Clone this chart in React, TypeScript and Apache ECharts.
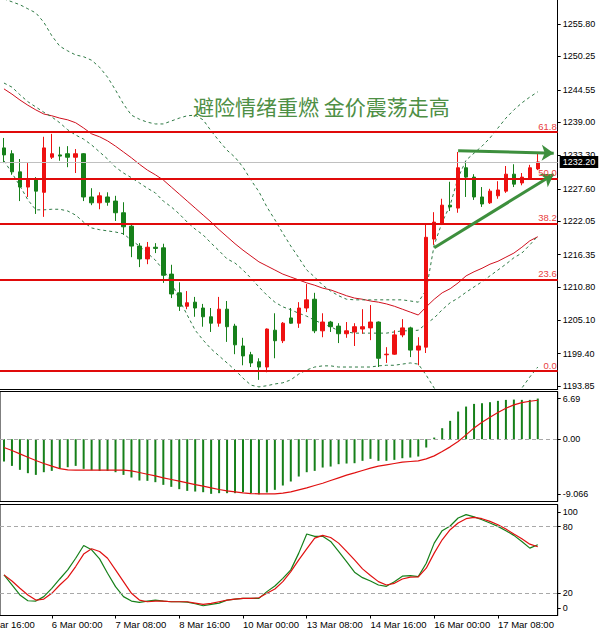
import React, { useEffect, useRef } from "react";
import * as echarts from "echarts";

// ---- slots on the time axis (68 bars + 2 empty slots of right shift) ----
const slotCount = 70;
const categories = Array.from({ length: slotCount }, (_, i) => String(i));

const timeTickIndex = [6, 14, 22, 30, 38, 46, 54, 62];
const timeTickLabels = [
  "6 Mar 00:00",
  "7 Mar 08:00",
  "8 Mar 16:00",
  "10 Mar 00:00",
  "13 Mar 08:00",
  "14 Mar 16:00",
  "16 Mar 00:00",
  "17 Mar 08:00",
];
const clippedFirstLabel = "ar 16:00";

// [open, close, low, high]
const candles = [
  [1234.6, 1233.4, 1232.0, 1236.3],
  [1233.6, 1230.5, 1230.0, 1234.2],
  [1230.5, 1227.9, 1225.5, 1232.7],
  [1227.9, 1229.1, 1226.2, 1232.0],
  [1229.1, 1227.2, 1223.3, 1229.6],
  [1227.0, 1234.6, 1222.8, 1236.5],
  [1233.0, 1233.6, 1232.7, 1237.0],
  [1233.4, 1233.2, 1232.4, 1234.8],
  [1233.6, 1233.0, 1231.3, 1234.9],
  [1233.0, 1233.6, 1230.3, 1234.4],
  [1233.6, 1226.2, 1225.5, 1233.7],
  [1226.2, 1225.2, 1224.8, 1227.7],
  [1225.2, 1226.4, 1224.1, 1227.0],
  [1226.2, 1225.3, 1224.7, 1227.0],
  [1225.5, 1223.5, 1222.1, 1226.4],
  [1223.5, 1221.1, 1219.7, 1225.3],
  [1221.2, 1217.8, 1215.9, 1221.4],
  [1217.8, 1215.6, 1214.2, 1218.3],
  [1215.6, 1217.6, 1214.7, 1218.5],
  [1217.6, 1217.4, 1216.6, 1218.3],
  [1217.5, 1212.8, 1211.5, 1218.2],
  [1213.0, 1209.6, 1208.9, 1214.6],
  [1209.8, 1207.5, 1206.7, 1211.6],
  [1207.5, 1208.1, 1207.0, 1210.1],
  [1208.2, 1207.2, 1205.7, 1209.1],
  [1207.2, 1205.7, 1204.0, 1207.9],
  [1205.7, 1204.6, 1203.1, 1207.2],
  [1204.6, 1207.0, 1204.0, 1209.1],
  [1207.0, 1204.0, 1201.4, 1208.4],
  [1204.1, 1200.9, 1199.3, 1204.5],
  [1200.7, 1199.0, 1197.4, 1202.1],
  [1199.2, 1197.8, 1197.1, 1199.7],
  [1198.0, 1197.1, 1194.9, 1198.6],
  [1197.1, 1203.6, 1196.2, 1203.7],
  [1203.4, 1201.6, 1198.6, 1206.3],
  [1201.6, 1204.6, 1201.2, 1204.8],
  [1205.5, 1204.6, 1204.5, 1207.2],
  [1204.6, 1207.2, 1203.8, 1208.2],
  [1207.2, 1208.6, 1206.5, 1211.3],
  [1208.7, 1203.3, 1202.9, 1209.8],
  [1203.3, 1204.8, 1202.2, 1206.3],
  [1204.8, 1204.0, 1203.1, 1205.0],
  [1204.1, 1202.8, 1201.2, 1204.6],
  [1202.8, 1203.3, 1202.1, 1204.8],
  [1203.1, 1204.0, 1200.7, 1204.6],
  [1203.6, 1204.0, 1202.8, 1207.0],
  [1203.8, 1204.8, 1201.7, 1207.7],
  [1204.8, 1198.6, 1197.1, 1204.9],
  [1199.2, 1199.3, 1197.8, 1200.5],
  [1199.3, 1202.6, 1199.2, 1203.4],
  [1202.6, 1203.8, 1202.2, 1205.3],
  [1203.8, 1200.0, 1198.8, 1204.0],
  [1200.0, 1200.7, 1197.4, 1202.2],
  [1200.5, 1219.3, 1199.5, 1221.6],
  [1219.0, 1221.9, 1218.0, 1223.6],
  [1221.7, 1224.8, 1221.4, 1225.9],
  [1224.8, 1224.5, 1223.8, 1228.8],
  [1224.3, 1231.2, 1223.5, 1233.9],
  [1231.2, 1229.6, 1226.2, 1232.0],
  [1229.6, 1226.2, 1225.7, 1230.1],
  [1226.2, 1225.0, 1224.5, 1227.9],
  [1225.2, 1227.2, 1225.0, 1227.6],
  [1226.4, 1227.4, 1225.9, 1228.9],
  [1227.2, 1230.1, 1226.9, 1231.5],
  [1230.1, 1228.4, 1227.9, 1231.8],
  [1228.6, 1229.6, 1228.2, 1230.3],
  [1229.4, 1231.2, 1229.3, 1231.7],
  [1231.0, 1232.2, 1230.8, 1233.6],
];

const bandUpper = [
  1260.1, 1259.6, 1259.1, 1258.4, 1257.7, 1256.1, 1253.8, 1252.0, 1251.2, 1250.5,
  1250.2, 1249.6, 1248.4, 1246.7, 1244.5, 1242.1, 1240.2, 1239.5, 1239.0, 1238.7,
  1238.7, 1239.2, 1239.7, 1240.1, 1240.2, 1239.4, 1237.5, 1235.8, 1234.2, 1233.0,
  1231.3, 1229.1, 1227.1, 1224.5, 1222.3, 1220.0, 1217.8, 1215.8, 1213.7, 1212.5,
  1211.1, 1210.1, 1209.3, 1208.7, 1208.6, 1208.6, 1208.6, 1208.6, 1208.6, 1208.6,
  1208.6, 1208.4, 1208.2, 1210.3, 1218.0, 1221.9, 1224.8, 1229.5, 1232.5, 1233.7,
  1234.9, 1236.3, 1238.0, 1239.7, 1241.1, 1242.3, 1243.3, 1244.2,
];
const bandMiddle = [
  1245.7, 1245.0, 1243.7, 1242.5, 1241.6, 1240.7, 1239.9, 1238.9, 1237.7, 1236.8,
  1236.1, 1235.1, 1233.9, 1232.7, 1231.3, 1230.3, 1229.5, 1228.6, 1227.7, 1226.9,
  1225.5, 1224.5, 1223.3, 1221.9, 1220.7, 1219.7, 1218.3, 1217.0, 1215.6, 1214.9,
  1213.7, 1212.3, 1210.8, 1209.4, 1208.2, 1207.4, 1206.9, 1206.3, 1205.8, 1205.1,
  1204.5, 1204.0, 1203.3, 1203.1, 1202.9, 1202.9, 1202.9, 1202.9, 1202.9, 1203.1,
  1203.3, 1203.3, 1203.4, 1204.5, 1205.5, 1206.9, 1208.1, 1208.9, 1209.9, 1210.8,
  1211.7, 1212.7, 1213.7, 1214.7, 1215.8, 1216.6, 1218.0, 1219.5,
];
const bandLower = [
  1232.4, 1230.3, 1228.1, 1225.7, 1224.0, 1224.0, 1224.1, 1224.1, 1223.8, 1223.1,
  1221.9, 1220.9, 1220.6, 1220.4, 1220.2, 1219.9, 1218.8, 1217.8, 1216.6, 1215.4,
  1213.7, 1211.7, 1208.6, 1206.0, 1203.4, 1201.7, 1200.2, 1199.0, 1197.8, 1196.6,
  1195.2, 1194.0, 1193.7, 1193.9, 1194.2, 1194.4, 1194.9, 1195.9, 1196.6, 1197.1,
  1197.3, 1197.3, 1197.1, 1197.1, 1197.1, 1197.1, 1197.1, 1197.3, 1197.4, 1197.4,
  1197.6, 1197.8, 1197.6, 1195.7, 1193.5, 1191.8, 1191.1, 1189.7, 1188.7, 1188.0,
  1188.4, 1189.1, 1189.7, 1190.6, 1191.8, 1193.5, 1195.4, 1197.1,
];
const maRed = [
  1244.7, 1243.8, 1242.8, 1241.9, 1241.1, 1240.4, 1240.1, 1239.7, 1239.4, 1238.9,
  1238.0, 1237.0, 1236.5, 1235.8, 1234.9, 1233.9, 1232.9, 1231.8, 1230.8, 1230.0,
  1229.1, 1227.9, 1226.7, 1225.5, 1224.3, 1223.1, 1221.9, 1220.6, 1219.4, 1218.2,
  1217.1, 1216.1, 1215.1, 1214.4, 1213.7, 1213.0, 1212.5, 1212.0, 1211.5, 1211.1,
  1210.6, 1210.3, 1209.8, 1209.3, 1208.9, 1208.7, 1208.4, 1208.2, 1207.9, 1207.5,
  1207.0, 1206.5, 1206.0, 1207.4, 1208.7, 1209.8, 1210.5, 1211.5, 1212.7, 1213.4,
  1214.0, 1214.7, 1215.2, 1215.9, 1216.6, 1217.6, 1218.7, 1219.4,
];

const macdHist = [
  -3.67, -4.39, -5.04, -5.59, -5.87, -5.43, -5.21, -4.88, -4.61, -4.39,
  -4.88, -5.1, -5.21, -5.21, -5.43, -5.87, -6.3, -6.8, -6.85, -7.07,
  -7.51, -7.84, -8.22, -8.5, -8.61, -8.72, -8.99, -8.88, -8.88, -8.88,
  -8.72, -8.88, -9.066, -8.77, -8.33, -7.62, -6.96, -6.14, -5.43, -5.21,
  -4.66, -4.5, -4.11, -4.0, -3.95, -3.56, -3.23, -3.56, -3.56, -3.4,
  -3.13, -3.02, -2.85, -1.37, 0.27, 1.81, 3.02, 4.55, 5.37, 5.81,
  5.92, 6.09, 6.31, 6.47, 6.52, 6.47, 6.47, 6.69,
];
const macdSignal = [
  -1.37, -1.86, -2.41, -2.96, -3.51, -4.0, -4.44, -4.83, -5.04, -5.1,
  -5.1, -5.1, -5.1, -5.1, -5.1, -5.1, -5.21, -5.48, -5.76, -6.03,
  -6.36, -6.63, -6.91, -7.18, -7.46, -7.73, -8.01, -8.28, -8.5, -8.66,
  -8.83, -8.94, -8.99, -8.99, -8.99, -8.88, -8.66, -8.33, -8.01, -7.62,
  -7.24, -6.8, -6.36, -5.92, -5.54, -5.15, -4.77, -4.44, -4.22, -4.0,
  -3.78, -3.67, -3.56, -3.23, -2.74, -2.03, -1.26, -0.38, 0.71, 1.86,
  2.8, 3.62, 4.39, 5.1, 5.65, 6.03, 6.25, 6.41,
];

const stochK = [
  36.6, 27.5, 18.5, 13.3, 13.0, 17.0, 24.5, 32.9, 41.1, 51.6,
  63.1, 59.2, 51.0, 38.1, 26.0, 17.0, 13.0, 11.8, 13.0, 13.9,
  13.0, 12.4, 12.4, 12.1, 10.6, 8.8, 10.0, 11.2, 13.9, 14.8,
  15.4, 15.4, 15.4, 21.5, 26.6, 33.5, 41.1, 56.2, 73.4, 71.3,
  71.3, 66.7, 57.7, 48.6, 39.0, 34.1, 31.1, 27.5, 26.3, 30.5,
  35.4, 36.0, 35.0, 47.1, 65.2, 76.4, 80.6, 87.8, 90.9, 88.8,
  86.3, 83.3, 80.3, 76.4, 72.2, 66.7, 60.7, 63.7,
];
const stochD = [
  36.6, 31.1, 24.5, 18.5, 13.9, 14.8, 20.0, 27.5, 34.1, 44.1,
  55.3, 60.1, 57.7, 51.6, 41.1, 30.5, 20.0, 13.9, 12.4, 13.0,
  13.0, 12.4, 12.4, 12.4, 11.2, 10.0, 10.9, 12.4, 13.9, 14.8,
  15.4, 15.4, 16.0, 20.0, 23.9, 30.5, 39.6, 50.1, 60.1, 69.7,
  72.2, 70.3, 65.2, 57.7, 50.1, 42.0, 36.0, 30.5, 27.5, 29.0,
  32.9, 34.5, 34.8, 42.6, 56.2, 68.2, 77.3, 83.3, 87.2, 88.4,
  87.2, 84.8, 81.8, 77.9, 73.4, 69.1, 64.3, 61.9,
];

const fibPrices = [1237.3, 1229.4, 1221.6, 1212.0, 1196.4];
const fibLabels = ["61.8", "50.0", "38.2", "23.6", "0.0"];
const lastPrice = 1232.2;

const priceRange = [1193.34, 1259.91];
const priceTicks = [
  1193.85, 1199.4, 1205.1, 1210.8, 1216.35, 1222.05, 1227.6, 1233.3, 1239.0,
  1244.55, 1250.25, 1255.8,
];
const macdRange = [-10.25, 7.85];
const macdTicks = [6.69, 0, -9.066];
const macdTickLabels = ["6.69", "0.00", "-9.066"];
const stochRange = [0, 100];
const stochTicks = [6.6, 20, 80, 92.8];
const stochTickLabels = ["0", "20", "80", "100"];
const stochLevels = [20, 80];

// arrows drawn on the chart: [slot, price]
const arrowFlat = [
  [57, 1234.1],
  [69, 1233.7],
];
const arrowRise = [
  [54, 1217.5],
  [69, 1230.1],
];

const titleText = "避险情绪重燃 金价震荡走高";

const FONT = "'Liberation Sans', Arial, sans-serif";
const RED = "#ee1111";
const GREEN = "#16801a";
const BAND = "#2f7a45";

function nearestLabel(v: number, ticks: number[], labels: string[]) {
  let best = 0;
  for (let i = 1; i < ticks.length; i++) {
    if (Math.abs(ticks[i] - v) < Math.abs(ticks[best] - v)) best = i;
  }
  return labels[best];
}

export default function App() {
  const ref = useRef<HTMLDivElement>(null);
  useEffect(() => {
    document.body.style.margin = "0";
    if (!ref.current) return;
    const chart = echarts.init(ref.current, null, { renderer: "svg" });

    const axisLabelBase = { fontFamily: FONT, fontSize: 9, color: "#000" };
    const arrowItem = (pts: number[][]) => [
      {
        coord: pts[0],
        symbol: "none",
        lineStyle: { color: "#3d8f3d", width: 3, type: "solid" },
        itemStyle: { color: "#3d8f3d" },
      },
      {
        coord: pts[1],
        symbol: "arrow",
        symbolSize: 12,
        lineStyle: { color: "#3d8f3d", width: 3, type: "solid" },
        itemStyle: { color: "#3d8f3d" },
      },
    ];

    const option: any = {
      animation: false,
      backgroundColor: "#fff",
      grid: [
        { left: -2.3, right: 43.3, top: 0, height: 389 },
        {
          left: -2.3,
          right: 43.3,
          top: 391.5,
          height: 110,
          show: true,
          borderColor: "#000",
          borderWidth: 1,
          backgroundColor: "transparent",
        },
        {
          left: -2.3,
          right: 43.3,
          top: 504.5,
          height: 111,
          show: true,
          borderColor: "#000",
          borderWidth: 1,
          backgroundColor: "transparent",
        },
      ],
      xAxis: [
        {
          gridIndex: 0,
          type: "category",
          data: categories,
          boundaryGap: true,
          axisLine: { show: true, lineStyle: { color: "#000" } },
          axisTick: { show: false },
          axisLabel: { show: false },
          splitLine: { show: false },
        },
        {
          gridIndex: 1,
          type: "category",
          data: categories,
          boundaryGap: true,
          show: false,
        },
        {
          gridIndex: 2,
          type: "category",
          data: categories,
          boundaryGap: true,
          axisLine: { show: true, lineStyle: { color: "#000" } },
          axisTick: {
            show: true,
            alignWithLabel: true,
            length: 3,
            interval: (i: number) => timeTickIndex.includes(i),
            lineStyle: { color: "#000" },
          },
          axisLabel: {
            interval: (i: number) => timeTickIndex.includes(i),
            formatter: (v: string) => {
              const k = timeTickIndex.indexOf(Number(v));
              return k >= 0 ? timeTickLabels[k] : "";
            },
            align: "left",
            margin: 4,
            fontFamily: FONT,
            fontSize: 9.5,
            color: "#000",
          },
          splitLine: { show: false },
        },
      ],
      yAxis: [
        {
          gridIndex: 0,
          type: "value",
          position: "right",
          min: priceRange[0],
          max: priceRange[1],
          axisLine: { show: true, lineStyle: { color: "#000" } },
          axisTick: {
            show: true,
            length: 3,
            customValues: priceTicks,
            lineStyle: { color: "#000" },
          },
          axisLabel: {
            ...axisLabelBase,
            margin: 5,
            customValues: priceTicks,
            formatter: (v: number) => v.toFixed(2),
          },
          splitLine: { show: false },
        },
        {
          gridIndex: 1,
          type: "value",
          position: "right",
          min: macdRange[0],
          max: macdRange[1],
          axisLine: { show: true, lineStyle: { color: "#000" } },
          axisTick: {
            show: true,
            length: 3,
            customValues: macdTicks,
            lineStyle: { color: "#000" },
          },
          axisLabel: {
            ...axisLabelBase,
            margin: 5,
            customValues: macdTicks,
            formatter: (v: number) => nearestLabel(v, macdTicks, macdTickLabels),
          },
          splitLine: { show: false },
        },
        {
          gridIndex: 2,
          type: "value",
          position: "right",
          min: stochRange[0],
          max: stochRange[1],
          axisLine: { show: true, lineStyle: { color: "#000" } },
          axisTick: {
            show: true,
            length: 3,
            customValues: stochTicks,
            lineStyle: { color: "#000" },
          },
          axisLabel: {
            ...axisLabelBase,
            margin: 5,
            customValues: stochTicks,
            formatter: (v: number) => nearestLabel(v, stochTicks, stochTickLabels),
          },
          splitLine: { show: false },
        },
      ],
      series: [
        {
          type: "line",
          xAxisIndex: 0,
          yAxisIndex: 0,
          data: maRed,
          symbol: "none",
          silent: true,
          lineStyle: { color: "#d0101e", width: 1 },
          z: 1,
        },
        {
          type: "line",
          xAxisIndex: 0,
          yAxisIndex: 0,
          data: bandUpper,
          symbol: "none",
          silent: true,
          lineStyle: { color: BAND, width: 1, type: [3, 3] },
          z: 1,
        },
        {
          type: "line",
          xAxisIndex: 0,
          yAxisIndex: 0,
          data: bandMiddle,
          symbol: "none",
          silent: true,
          lineStyle: { color: BAND, width: 1, type: [3, 3] },
          z: 1,
        },
        {
          type: "line",
          xAxisIndex: 0,
          yAxisIndex: 0,
          data: bandLower,
          symbol: "none",
          silent: true,
          lineStyle: { color: BAND, width: 1, type: [3, 3] },
          z: 1,
        },
        {
          type: "candlestick",
          xAxisIndex: 0,
          yAxisIndex: 0,
          data: candles,
          barWidth: 4,
          silent: true,
          itemStyle: {
            color: RED,
            color0: GREEN,
            borderColor: RED,
            borderColor0: GREEN,
            borderWidth: 1,
          },
          z: 2,
          markLine: {
            silent: true,
            symbol: "none",
            animation: false,
            data: [
              ...fibPrices.map((p, i) => ({
                yAxis: p,
                lineStyle: { color: "#e00a0a", width: 2, type: "solid" },
                label: {
                  show: true,
                  position: "insideEndTop",
                  formatter: fibLabels[i],
                  color: "#e84040",
                  fontFamily: FONT,
                  fontSize: 9.5,
                  distance: [1, 1],
                },
              })),
              {
                yAxis: lastPrice,
                lineStyle: { color: "#c0c0c0", width: 1, type: "solid" },
                label: {
                  show: true,
                  position: "end",
                  formatter: lastPrice.toFixed(2),
                  backgroundColor: "#000",
                  color: "#fff",
                  padding: [2, 3, 1, 3],
                  fontFamily: FONT,
                  fontSize: 9,
                  distance: 2,
                },
              },
              arrowItem(arrowFlat),
              arrowItem(arrowRise),
            ],
          },
        },
        {
          type: "bar",
          xAxisIndex: 1,
          yAxisIndex: 1,
          data: macdHist,
          barWidth: 2,
          silent: true,
          itemStyle: { color: GREEN },
          markLine: {
            silent: true,
            symbol: "none",
            label: { show: false },
            lineStyle: { color: "#a8a8a8", width: 1, type: [4, 3] },
            data: [{ yAxis: 0 }],
          },
        },
        {
          type: "line",
          xAxisIndex: 1,
          yAxisIndex: 1,
          data: macdSignal,
          symbol: "none",
          silent: true,
          lineStyle: { color: "#e01010", width: 1.2 },
        },
        {
          type: "line",
          xAxisIndex: 2,
          yAxisIndex: 2,
          data: stochK,
          symbol: "none",
          silent: true,
          lineStyle: { color: GREEN, width: 1.2 },
          markLine: {
            silent: true,
            symbol: "none",
            label: { show: false },
            lineStyle: { color: "#a8a8a8", width: 1, type: [4, 3] },
            data: stochLevels.map((v) => ({ yAxis: v })),
          },
        },
        {
          type: "line",
          xAxisIndex: 2,
          yAxisIndex: 2,
          data: stochD,
          symbol: "none",
          silent: true,
          lineStyle: { color: "#e01010", width: 1.2 },
        },
      ],
      graphic: [
        {
          type: "text",
          x: 193,
          y: 106,
          silent: true,
          style: {
            text: titleText,
            fill: "#4e8f45",
            fontSize: 21,
            fontFamily: "'Noto Sans CJK SC', sans-serif",
            verticalAlign: "middle",
          },
        },
        {
          type: "text",
          x: 0,
          y: 624,
          silent: true,
          style: {
            text: clippedFirstLabel,
            fill: "#000",
            fontSize: 9.5,
            fontFamily: FONT,
            verticalAlign: "middle",
          },
        },
      ],
    };

    chart.setOption(option);
    return () => chart.dispose();
  }, []);

  return <div ref={ref} style={{ width: 601, height: 635 }} />;
}
